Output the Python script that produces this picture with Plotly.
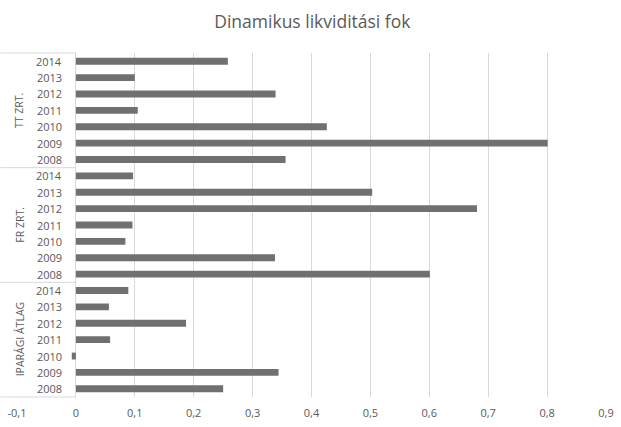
import plotly.graph_objects as go

# Dynamic liquidity ratio by company group and year
groups = ["TT ZRT.", "FR ZRT.", "IPARÁGI ÁTLAG"]
years = ["2008", "2009", "2010", "2011", "2012", "2013", "2014"]
tt_values = [0.356, 0.801, 0.426, 0.105, 0.339, 0.100, 0.258]
fr_values = [0.601, 0.338, 0.084, 0.096, 0.681, 0.503, 0.097]
ipar_values = [0.250, 0.344, -0.007, 0.058, 0.187, 0.056, 0.089]

x_tickvals = [-0.1, 0, 0.1, 0.2, 0.3, 0.4, 0.5, 0.6, 0.7, 0.8, 0.9]
x_ticktext = ["-0,1", "0", "0,1", "0,2", "0,3", "0,4", "0,5", "0,6", "0,7", "0,8", "0,9"]

TEXT = "#595959"
GRID = "#d9d9d9"
FONT = "Open Sans"

# bottom-to-top order: last group first, years ascending inside each group
series = {"TT ZRT.": tt_values, "FR ZRT.": fr_values, "IPARÁGI ÁTLAG": ipar_values}
cats, vals, labels = [], [], []
for g in reversed(groups):
    for yr, v in zip(years, series[g]):
        cats.append(f"{g} {yr}")
        vals.append(v)
        labels.append(yr)

fig = go.Figure(
    go.Bar(
        x=vals,
        y=cats,
        orientation="h",
        marker=dict(color="#707070", line=dict(width=0)),
        width=0.42,
        hoverinfo="x+y",
    )
)

annotations = []
# year labels inside the left part of the plot
for c, lab in zip(cats, labels):
    annotations.append(dict(
        x=-0.021, y=c, xref="x", yref="y", text=lab, showarrow=False,
        xanchor="right", yanchor="middle",
        font=dict(family=FONT, size=11, color=TEXT),
    ))
# rotated group labels, centred on each block of seven years
for g in groups:
    mid = f"{g} {years[3]}"
    annotations.append(dict(
        x=-0.0955, y=mid, xref="x", yref="y", text=g, showarrow=False,
        textangle=-90, xanchor="center", yanchor="middle",
        bgcolor="white", borderpad=0,
        font=dict(family=FONT, size=10.5, color=TEXT),
    ))

# separators between the groups on the category axis
n = len(cats)
shapes = []
for k in (0, 7, 14, 21):
    shapes.append(dict(
        type="line", xref="paper", yref="paper",
        x0=-17 / 597, x1=0.1, y0=k / n, y1=k / n,
        line=dict(color=GRID, width=1),
    ))

fig.update_layout(
    width=621,
    height=427,
    margin=dict(l=17, r=7, t=53, b=25),
    paper_bgcolor="white",
    plot_bgcolor="white",
    showlegend=False,
    title=dict(
        text="Dinamikus likviditási fok",
        x=0.503, xanchor="center", y=0.948, yanchor="middle",
        font=dict(family=FONT, size=17.5, color=TEXT),
    ),
    xaxis=dict(
        range=[-0.10001, 0.90001],
        tickmode="array",
        tickvals=x_tickvals,
        ticktext=x_ticktext,
        ticklabeloverflow="allow",
        showgrid=True,
        gridcolor=GRID,
        gridwidth=1,
        zeroline=True,
        zerolinecolor=GRID,
        zerolinewidth=1,
        showline=False,
        ticks="outside",
        ticklen=6,
        tickcolor="rgba(0,0,0,0)",
        tickfont=dict(family=FONT, size=11, color=TEXT),
        fixedrange=True,
    ),
    yaxis=dict(
        type="category",
        categoryorder="array",
        categoryarray=cats,
        range=[-0.5, n - 0.5],
        showticklabels=False,
        showgrid=False,
        zeroline=False,
        showline=False,
        ticks="",
        fixedrange=True,
    ),
    annotations=annotations,
    shapes=shapes,
)

fig.write_html("out.html")
